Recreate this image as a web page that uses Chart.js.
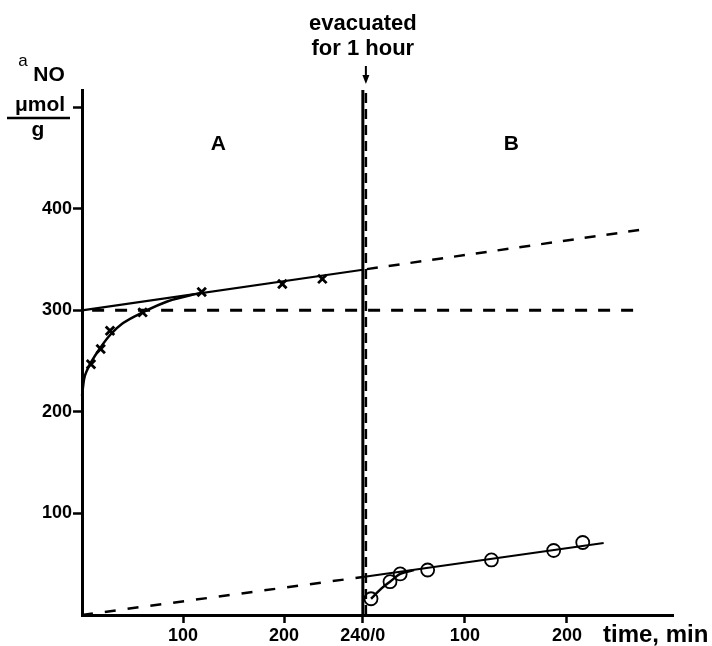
<!DOCTYPE html>
<html lang="en">
<head>
  <meta charset="UTF-8">
  <title>NO adsorption before and after evacuation</title>
  <script src="https://cdn.jsdelivr.net/npm/chart.js"></script>
  <style>
    body { margin: 0; background: #fff; }
  </style>
</head>
<body>
  <canvas id="chart" width="712" height="646"></canvas>

  <script>
    // x axis is one linear "position" scale: part A runs 0..BREAK (labelled 240/0),
    // part B starts again at the break, in minutes after evacuation
    const BREAK = 278;
    const B_SCALE = 1.01;

    // part A, crosses (min, umol/g)
    const aTime = [8.9, 18.5, 27.7, 60, 118.5, 198.3, 237.9];
    const aNO = [247, 262, 280, 298, 318, 326, 331];
    // hand drawn curve through the first crosses
    const aCurveTime = [0, 2, 5, 9, 18, 28, 40, 60, 85, 118.5];
    const aCurveNO = [216, 232, 241, 249, 263, 276, 287, 298, 309, 317.5];
    // straight line of the slow uptake, and its extrapolation
    const aLineTime = [0, BREAK];
    const aLineNO = [300, 340];
    const aExtTime = [BREAK + 4, 555];
    const aExtNO = [340.6, 379.6];
    const level300Time = [10, 555];
    const level300NO = [300, 300];

    // part B, circles (min after evacuation, umol/g)
    const bTime = [8, 26.6, 36.6, 63.5, 126, 187, 215.5];
    const bNO = [16, 32.8, 40.4, 44.3, 54.2, 63.5, 71.4];
    const bCurveTime = [8, 18, 26.6, 36.6, 50];
    const bCurveNO = [16, 26, 32.8, 40.4, 44.2];
    const bLineTime = [0, 236];
    const bLineNO = [37.4, 70.9];
    // back extrapolation of line B onto part A
    const backTime = [0, BREAK];
    const backNO = [0, 37.4];

    const xTickPos = [100, 200, BREAK, BREAK + 100 * B_SCALE, BREAK + 200 * B_SCALE];
    const xTickLabels = ['100', '200', '240/0', '100', '200'];
    const yTicks = [100, 200, 300, 400, 500];
    const yTickLabels = ['100', '200', '300', '400', ''];

    const FONT = "'Liberation Sans', Arial, Helvetica, sans-serif";

    const toPts = (xs, ys) => xs.map((x, i) => ({ x: x, y: ys[i] }));
    const bPts = (ts, ys) => ts.map((t, i) => ({ x: BREAK + t * B_SCALE, y: ys[i] }));

    function lineSet(data, dash, width) {
      return {
        data: data,
        showLine: true,
        borderColor: '#000',
        borderWidth: width || 2,
        borderDash: dash || [],
        pointRadius: 0,
        fill: false,
        clip: false
      };
    }

    const datasets = [
      lineSet(toPts(backTime, backNO), [11, 12], 2.5),
      lineSet(toPts(level300Time, level300NO), [12, 11], 3),
      lineSet(toPts(aExtTime, aExtNO), [11, 11], 2.5),
      lineSet(toPts(aLineTime, aLineNO), [], 2.2),
      Object.assign(lineSet(toPts(aCurveTime, aCurveNO), [], 2.5), { tension: 0.4, cubicInterpolationMode: 'monotone' }),
      lineSet(toPts([BREAK, BREAK], [0, 517]), [], 3),
      lineSet(toPts([BREAK + 3, BREAK + 3], [0, 517]), [10, 6], 2.5),
      lineSet(bPts(bLineTime, bLineNO), [], 2.2),
      Object.assign(lineSet(bPts(bCurveTime, bCurveNO), [], 2.5), { tension: 0.4, cubicInterpolationMode: 'monotone' }),
      {
        data: toPts(aTime, aNO),
        showLine: false,
        pointStyle: 'crossRot',
        pointRadius: 6,
        pointBorderWidth: 2.8,
        pointBorderColor: '#000',
        clip: false
      },
      {
        data: bPts(bTime, bNO),
        showLine: false,
        pointStyle: 'circle',
        pointRadius: 6.5,
        pointBorderWidth: 1.8,
        pointBorderColor: '#000',
        pointBackgroundColor: '#fff',
        clip: false
      }
    ];

    // texts and the arrow drawn on top of the chart
    const annotations = {
      id: 'annotations',
      afterDraw(chart) {
        const ctx = chart.ctx;
        const xs = chart.scales.x;
        const ys = chart.scales.y;
        ctx.save();
        ctx.fillStyle = '#000';
        ctx.strokeStyle = '#000';

        ctx.font = 'bold 22px ' + FONT;
        ctx.textAlign = 'center';
        ctx.textBaseline = 'alphabetic';
        const xBreak = xs.getPixelForValue(BREAK);
        ctx.fillText('evacuated', xBreak, 30);
        ctx.fillText('for 1 hour', xBreak, 55);
        ctx.font = 'bold 21px ' + FONT;
        ctx.fillText('A', xs.getPixelForValue(135), ys.getPixelForValue(458));
        ctx.fillText('B', xs.getPixelForValue(425), ys.getPixelForValue(458));

        // arrow above the dashed line
        const xa = xs.getPixelForValue(BREAK + 3);
        ctx.lineWidth = 2;
        ctx.beginPath();
        ctx.moveTo(xa, 66);
        ctx.lineTo(xa, 78);
        ctx.stroke();
        ctx.beginPath();
        ctx.moveTo(xa - 3.5, 75);
        ctx.lineTo(xa + 3.5, 75);
        ctx.lineTo(xa, 84);
        ctx.closePath();
        ctx.fill();

        // axis title on the right end of x axis
        ctx.textAlign = 'left';
        ctx.font = 'bold 24px ' + FONT;
        ctx.fillText('time, min', 603, 642);

        // y axis title: aNO / umol per g
        ctx.font = '17px ' + FONT;
        ctx.textAlign = 'center';
        ctx.fillText('a', 23, 66);
        ctx.font = 'bold 21px ' + FONT;
        ctx.fillText('NO', 49, 81);
        ctx.fillText('\u03bcmol', 40, 111);
        ctx.fillText('g', 38, 136);
        ctx.lineWidth = 2.5;
        ctx.beginPath();
        ctx.moveTo(7, 118);
        ctx.lineTo(70, 118);
        ctx.stroke();
        ctx.restore();
      }
    };

    new Chart(document.getElementById('chart'), {
      type: 'scatter',
      data: { datasets: datasets },
      options: {
        responsive: false,
        animation: false,
        layout: { padding: { top: 90, right: 39, left: 0, bottom: 0 } },
        plugins: { legend: { display: false }, tooltip: { enabled: false } },
        scales: {
          x: {
            type: 'linear',
            min: 0,
            max: 585,
            afterFit: (scale) => { scale.height = 31; },
            afterBuildTicks: (scale) => { scale.ticks = xTickPos.map(v => ({ value: v })); },
            border: { color: '#000', width: 3 },
            grid: { drawOnChartArea: false, drawTicks: true, tickLength: 8, tickWidth: 2.5, tickColor: '#000' },
            ticks: {
              autoSkip: false,
              maxRotation: 0,
              padding: 2,
              color: '#000',
              font: { family: FONT, size: 18, weight: 'bold' },
              callback: (v, i) => xTickLabels[i]
            }
          },
          y: {
            type: 'linear',
            min: 0,
            max: 517,
            afterFit: (scale) => { scale.width = 82; },
            afterBuildTicks: (scale) => { scale.ticks = yTicks.map(v => ({ value: v })); },
            border: { color: '#000', width: 3 },
            grid: { drawOnChartArea: false, drawTicks: true, tickLength: 9, tickWidth: 2.5, tickColor: '#000' },
            ticks: {
              padding: 1,
              color: '#000',
              font: { family: FONT, size: 18, weight: 'bold' },
              callback: (v, i) => yTickLabels[i]
            }
          }
        }
      },
      plugins: [annotations]
    });
  </script>
</body>
</html>
